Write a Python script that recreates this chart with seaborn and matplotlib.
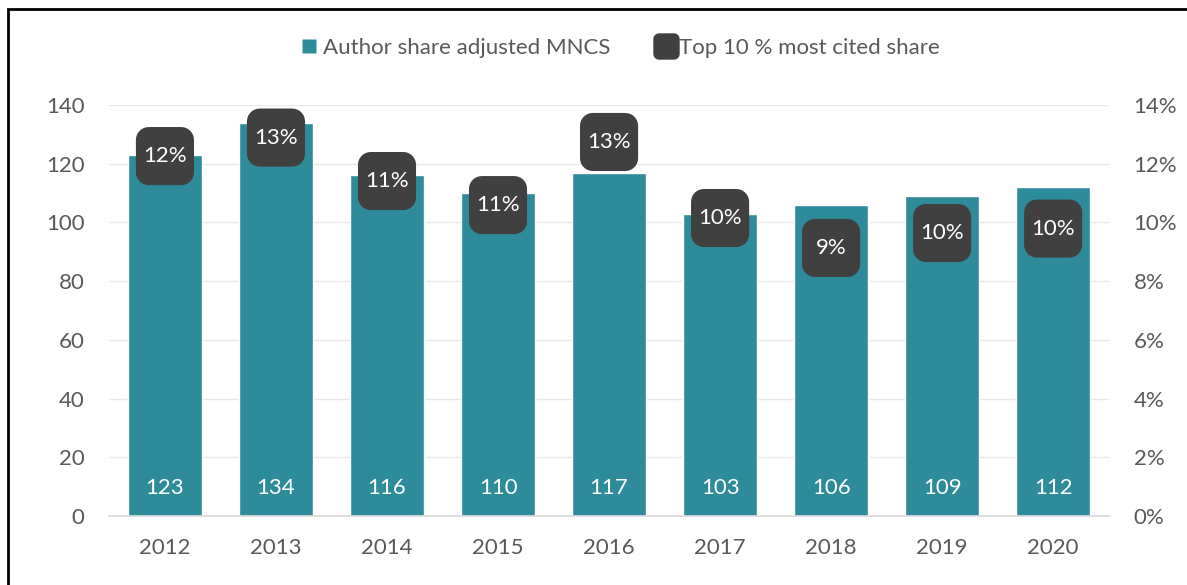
import numpy as np
import pandas as pd
import seaborn as sns
from matplotlib import pyplot as plt
from matplotlib.path import Path
from matplotlib.patches import Rectangle
from matplotlib.lines import Line2D
from matplotlib.ticker import FuncFormatter

years = ["2012", "2013", "2014", "2015", "2016", "2017", "2018", "2019", "2020"]
mncs = [123, 134, 116, 110, 117, 103, 106, 109, 112]
top10_share = [12.26, 12.89, 11.41, 10.59, 12.74, 10.15, 9.13, 9.64, 9.79]
top10_labels = ["12%", "13%", "11%", "11%", "13%", "10%", "9%", "10%", "10%"]

TEAL = "#2e8b9a"
DARK = "#404040"
GREY = "#595959"
FS = 16

sns.set_theme(style="white")
plt.rcParams["font.family"] = ["Lato", "DejaVu Sans"]


def rounded_square(r=0.22, n=8):
    # closed path of a square with rounded corners, side 1
    h = 0.5
    verts = []
    for cx, cy, a0 in [(h - r, h - r, 0), (-h + r, h - r, 90),
                       (-h + r, -h + r, 180), (h - r, -h + r, 270)]:
        for t in np.linspace(a0, a0 + 90, n):
            verts.append((cx + r * np.cos(np.radians(t)), cy + r * np.sin(np.radians(t))))
    verts.append(verts[0])
    codes = [Path.MOVETO] + [Path.LINETO] * (len(verts) - 2) + [Path.CLOSEPOLY]
    return Path(verts, codes)


marker = rounded_square()

df = pd.DataFrame({"year": years, "mncs": mncs, "top10": top10_share})

fig = plt.figure(figsize=(11.87, 5.85), dpi=100)
ax = fig.add_axes([0.0922, 0.118, 0.8418, 0.7025])

sns.barplot(data=df, x="year", y="mncs", color=TEAL, saturation=1, width=0.67, ax=ax)
ax.set_ylim(0, 140)
ax.set_yticks(range(0, 141, 20))
ax.set_xlim(-0.5, len(years) - 0.5)
ax.grid(axis="y", color="#e8e8e8", linewidth=1)
ax.set_axisbelow(True)
ax.set_xlabel("")
ax.set_ylabel("")
for s in ["top", "right", "left"]:
    ax.spines[s].set_visible(False)
ax.spines["bottom"].set_color("#d9d9d9")
ax.tick_params(axis="both", length=0, labelsize=FS, labelcolor=GREY)
ax.tick_params(axis="x", pad=16)
ax.tick_params(axis="y", pad=18)

for p, v in zip(ax.patches, mncs):
    ax.annotate(str(v), (p.get_x() + p.get_width() / 2, 0), xytext=(0, 20),
                textcoords="offset points", ha="center", va="center",
                color="white", fontsize=FS)

ax2 = ax.twinx()
sns.scatterplot(data=df, x="year", y="top10", marker=marker, s=1750,
                color=DARK, edgecolor="none", ax=ax2, zorder=5)
ax2.set_ylim(0, 14)
ax2.set_yticks(range(0, 15, 2))
ax2.yaxis.set_major_formatter(FuncFormatter(lambda v, _: f"{v:.0f}%"))
ax2.set_ylabel("")
for s in ax2.spines.values():
    s.set_visible(False)
ax2.tick_params(axis="y", length=0, labelsize=FS, labelcolor=GREY, pad=18)
for i, (v, lab) in enumerate(zip(top10_share, top10_labels)):
    ax2.annotate(lab, (i, v), ha="center", va="center", color="white",
                 fontsize=FS, zorder=6)

handles = [
    Line2D([], [], marker="s", linestyle="none", markersize=10,
           markerfacecolor=TEAL, markeredgecolor="none"),
    Line2D([], [], marker=marker, linestyle="none", markersize=19,
           markerfacecolor=DARK, markeredgecolor="none"),
]
fig.legend(handles, ["Author share adjusted MNCS", "Top 10 % most cited share"],
           loc="center", bbox_to_anchor=(0.5215, 0.918), ncol=2, frameon=False,
           fontsize=FS, labelcolor=GREY, handletextpad=0.1, columnspacing=2.0,
           handlelength=1.0)

fig.add_artist(Rectangle((8 / 1187, -0.05), 1.1, 1 - 9 / 585 + 0.05,
                         transform=fig.transFigure, fill=False,
                         edgecolor="black", linewidth=2))

fig.savefig("out.png", dpi=100)
